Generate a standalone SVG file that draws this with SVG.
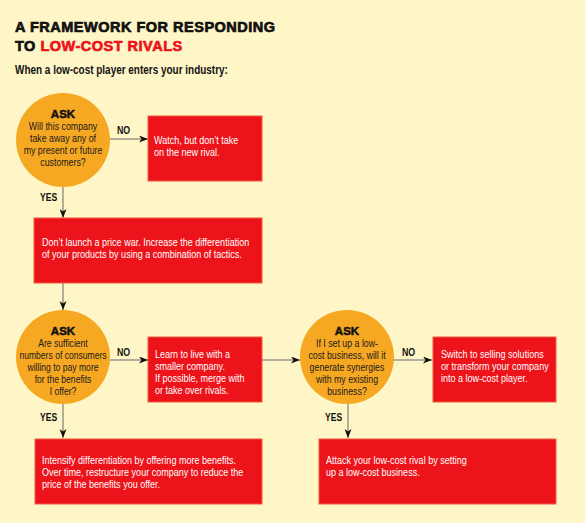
<svg xmlns="http://www.w3.org/2000/svg" width="585" height="523" viewBox="0 0 585 523">
<defs>
<marker id="ah" markerWidth="9" markerHeight="7" refX="9" refY="3.5" orient="auto" markerUnits="userSpaceOnUse">
<path d="M0,0 L9,3.5 L0,7 L2.5,3.5 Z" fill="#111"/>
</marker>
</defs>
<style>
.title{font-family:"Liberation Sans",Arial,sans-serif;font-weight:bold;font-size:14.5px;stroke-width:0.7px;letter-spacing:0.5px}
.sub{font-family:"Liberation Sans",Arial,sans-serif;font-weight:bold;font-size:12px;fill:#111}
.q{fill:#F7A823}
.box{fill:#EC131A;stroke:#F25A3C;stroke-width:1}
.ask{font-family:"Liberation Sans",Arial,sans-serif;font-weight:bold;font-size:11.5px;fill:#111;text-anchor:middle;stroke:#111;stroke-width:0.5px}
.qt{font-family:"Liberation Sans",Arial,sans-serif;font-size:11px;fill:#1a1a1a;text-anchor:middle}
.bt{font-family:"Liberation Sans",Arial,sans-serif;font-size:11px;fill:#fff}
.lbl{font-family:"Liberation Sans",Arial,sans-serif;font-weight:bold;font-size:11px;fill:#111}
.con{stroke:#666;stroke-width:1;fill:none;marker-end:url(#ah)}
</style>
<rect x="0" y="0" width="585" height="523" fill="#FFF6C8"/>
<g id="title">
<text class="title" x="15" y="32" fill="#111" stroke="#111">A FRAMEWORK FOR RESPONDING</text>
<text class="title" x="15" y="51" fill="#111" stroke="#111">TO <tspan fill="#EC131A" stroke="#EC131A">LOW-COST RIVALS</tspan></text>
<text class="sub" transform="translate(15 74) scale(.83 1)">When a low-cost player enters your industry:</text>
</g>
<g id="connectors">
<line class="con" x1="110" y1="139" x2="148" y2="139"/>
<line class="con" x1="63" y1="187" x2="63" y2="218"/>
<line class="con" x1="63" y1="283" x2="63" y2="310"/>
<line class="con" x1="110" y1="360" x2="148" y2="360"/>
<line class="con" x1="262" y1="360" x2="300" y2="360"/>
<line class="con" x1="393" y1="360" x2="432" y2="360"/>
<line class="con" x1="63" y1="404" x2="63" y2="438"/>
<line class="con" x1="348" y1="404" x2="348" y2="438"/>
<text class="lbl" transform="translate(117 134) scale(.8 1)">NO</text>
<text class="lbl" transform="translate(40 201) scale(.78 1)">YES</text>
<text class="lbl" transform="translate(117 356) scale(.8 1)">NO</text>
<text class="lbl" transform="translate(40 421) scale(.78 1)">YES</text>
<text class="lbl" transform="translate(402 356) scale(.8 1)">NO</text>
<text class="lbl" transform="translate(325 421) scale(.78 1)">YES</text>
</g>
<g id="q1">
<circle class="q" cx="63" cy="140" r="47"/>
<text class="ask" x="63" y="118">ASK</text>
<text class="qt" transform="translate(63 130) scale(.8 1)">Will this company</text>
<text class="qt" transform="translate(63 142) scale(.8 1)">take away any of</text>
<text class="qt" transform="translate(63 154) scale(.8 1)">my present or future</text>
<text class="qt" transform="translate(63 166) scale(.8 1)">customers?</text>
</g>
<g id="a1">
<rect class="box" x="148" y="116" width="114" height="65"/>
<text class="bt" transform="translate(154 144) scale(.82 1)">Watch, but don’t take</text>
<text class="bt" transform="translate(154 156) scale(.82 1)">on the new rival.</text>
</g>
<g id="a2">
<rect class="box" x="34" y="218" width="228" height="65"/>
<text class="bt" transform="translate(42 246) scale(.82 1)">Don’t launch a price war. Increase the differentiation</text>
<text class="bt" transform="translate(42 258) scale(.82 1)">of your products by using a combination of tactics.</text>
</g>
<g id="q2">
<circle class="q" cx="63" cy="357" r="47"/>
<text class="ask" x="63" y="335">ASK</text>
<text class="qt" transform="translate(63 347) scale(.78 1)">Are sufficient</text>
<text class="qt" transform="translate(63 359) scale(.78 1)">numbers of consumers</text>
<text class="qt" transform="translate(63 371) scale(.78 1)">willing to pay more</text>
<text class="qt" transform="translate(63 383) scale(.78 1)">for the benefits</text>
<text class="qt" transform="translate(63 395) scale(.78 1)">I offer?</text>
</g>
<g id="a3">
<rect class="box" x="148" y="337" width="114" height="65"/>
<text class="bt" transform="translate(155 358) scale(.82 1)">Learn to live with a</text>
<text class="bt" transform="translate(155 370) scale(.82 1)">smaller company.</text>
<text class="bt" transform="translate(155 382) scale(.82 1)">If possible, merge with</text>
<text class="bt" transform="translate(155 394) scale(.82 1)">or take over rivals.</text>
</g>
<g id="q3">
<circle class="q" cx="347" cy="357" r="47"/>
<text class="ask" x="347" y="335">ASK</text>
<text class="qt" transform="translate(347 347) scale(.8 1)">If I set up a low-</text>
<text class="qt" transform="translate(347 359) scale(.8 1)">cost business, will it</text>
<text class="qt" transform="translate(347 371) scale(.8 1)">generate synergies</text>
<text class="qt" transform="translate(347 383) scale(.8 1)">with my existing</text>
<text class="qt" transform="translate(347 395) scale(.8 1)">business?</text>
</g>
<g id="a4">
<rect class="box" x="433" y="337" width="123" height="65"/>
<text class="bt" transform="translate(441 358) scale(.82 1)">Switch to selling solutions</text>
<text class="bt" transform="translate(441 370) scale(.82 1)">or transform your company</text>
<text class="bt" transform="translate(441 382) scale(.82 1)">into a low-cost player.</text>
</g>
<g id="a5">
<rect class="box" x="35" y="439" width="227" height="65"/>
<text class="bt" transform="translate(42 464) scale(.82 1)">Intensify differentiation by offering more benefits.</text>
<text class="bt" transform="translate(42 476) scale(.82 1)">Over time, restructure your company to reduce the</text>
<text class="bt" transform="translate(42 488) scale(.82 1)">price of the benefits you offer.</text>
</g>
<g id="a6">
<rect class="box" x="319" y="439" width="237" height="65"/>
<text class="bt" transform="translate(326 464) scale(.82 1)">Attack your low-cost rival by setting</text>
<text class="bt" transform="translate(326 476) scale(.82 1)">up a low-cost business.</text>
</g>
</svg>
